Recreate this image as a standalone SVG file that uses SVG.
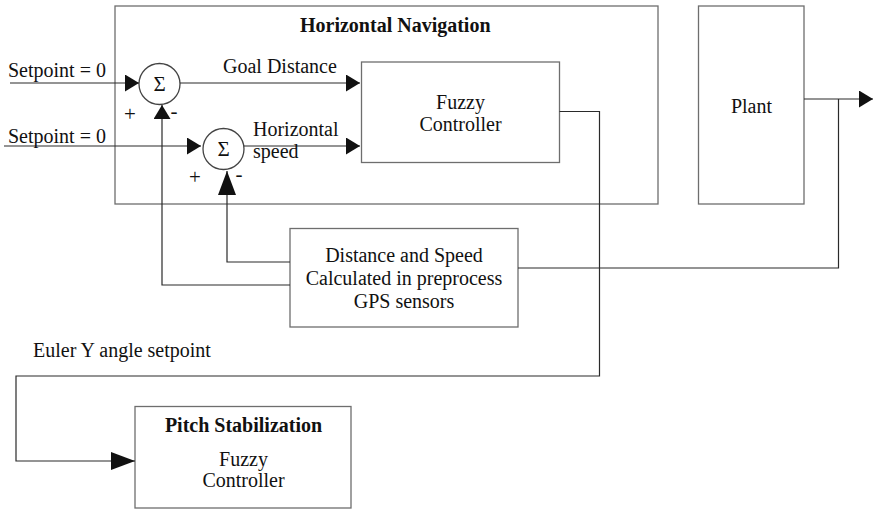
<svg xmlns="http://www.w3.org/2000/svg" width="874" height="510" viewBox="0 0 874 510">
<defs>
<style>
.box{fill:#fff;stroke:#6e6e6e;stroke-width:1.3}
.ln{fill:none;stroke:#2a2a2a;stroke-width:1.2}
.t{font-family:"Liberation Serif","Times New Roman",serif;font-size:20px;fill:#111}
.b{font-weight:bold}
.c{text-anchor:middle}
.s{font-size:21px}
</style>
<marker id="a" markerUnits="userSpaceOnUse" markerWidth="16" markerHeight="18" refX="14" refY="8.5" orient="auto">
<path d="M0,0 L14,8.5 L0,17 Z" fill="#111"/>
</marker>
<marker id="al" markerUnits="userSpaceOnUse" markerWidth="26" markerHeight="18" refX="24" refY="9" orient="auto">
<path d="M0,0 L24,9 L0,18 Z" fill="#111"/>
</marker>
</defs>
<g id="horizontal-navigation">
<rect class="box" x="115" y="6" width="543" height="198"/>
<text class="t b" x="300" y="32">Horizontal Navigation</text>
</g>
<g id="plant">
<rect class="box" x="698.5" y="6" width="105.5" height="198"/>
<text class="t c" x="751.5" y="112.5">Plant</text>
</g>
<g id="fuzzy-controller">
<rect class="box" x="361.5" y="62" width="198" height="100.5"/>
<text class="t c" x="460.5" y="108.5">Fuzzy</text>
<text class="t c" x="460.5" y="131">Controller</text>
</g>
<g id="sum1">
<circle class="box" cx="159.5" cy="84" r="20.5" style="stroke:#444"/>
<text class="t c s" x="159.5" y="91">Σ</text>
<text class="t c s" x="130" y="121">+</text>
<text class="t c s" x="174" y="118">-</text>
</g>
<g id="sum2">
<circle class="box" cx="223.5" cy="149" r="20.5" style="stroke:#444"/>
<text class="t c s" x="223.5" y="156">Σ</text>
<text class="t c s" x="195" y="184">+</text>
<text class="t c s" x="239" y="181">-</text>
</g>
<g id="gps">
<rect class="box" x="290" y="228.5" width="228" height="98.5"/>
<text class="t c" x="404" y="262">Distance and Speed</text>
<text class="t c" x="404" y="285">Calculated in preprocess</text>
<text class="t c" x="404" y="308">GPS sensors</text>
</g>
<g id="pitch-stabilization">
<rect class="box" x="135" y="406.5" width="216" height="101.5"/>
<text class="t b c" x="243.5" y="432">Pitch Stabilization</text>
<text class="t c" x="243.5" y="466">Fuzzy</text>
<text class="t c" x="243.5" y="487">Controller</text>
</g>
<g id="connectors">
<path class="ln" d="M10,83 H139" marker-end="url(#a)"/>
<path class="ln" d="M4,146 H201" marker-end="url(#a)"/>
<path class="ln" d="M180,83 H360" marker-end="url(#a)"/>
<path class="ln" d="M244,146 H360" marker-end="url(#a)"/>
<path class="ln" d="M290,285 H162 V105" marker-end="url(#a)"/>
<path class="ln" d="M290,262 H227 V171" marker-end="url(#al)"/>
<path class="ln" d="M559.5,111.5 H599.5 V376 H16 V461 H135" marker-end="url(#al)"/>
<path class="ln" d="M804,99 H873" marker-end="url(#a)"/>
<path class="ln" d="M518,268 H838.5 V99"/>
</g>
<g id="labels">
<text class="t" x="8" y="77">Setpoint = 0</text>
<text class="t" x="8" y="142.5">Setpoint = 0</text>
<text class="t" x="223" y="72.5">Goal Distance</text>
<text class="t" x="253" y="136">Horizontal</text>
<text class="t" x="253" y="158">speed</text>
<text class="t" x="33" y="357">Euler Y angle setpoint</text>
</g>
</svg>
